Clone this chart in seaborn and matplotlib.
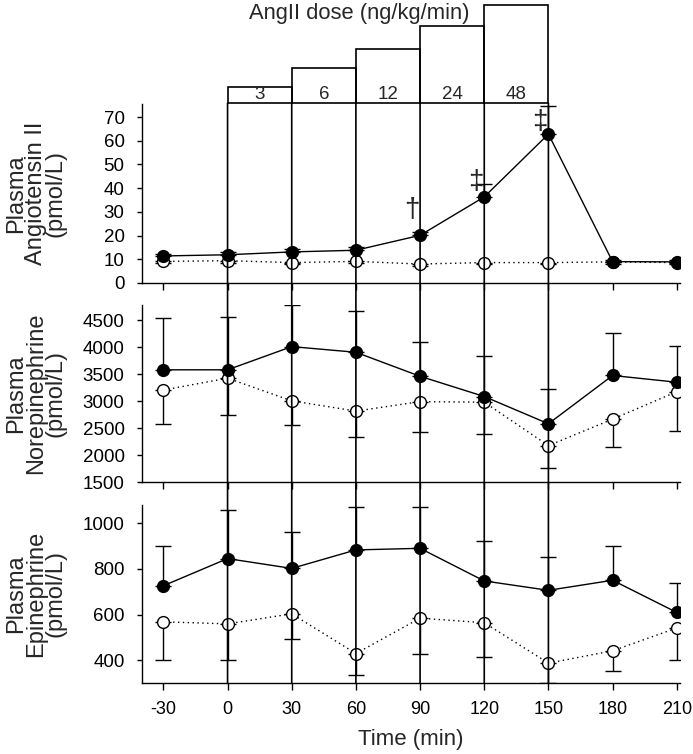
import matplotlib
matplotlib.use('Agg')
import matplotlib.pyplot as plt
import seaborn as sns
from matplotlib.patches import ConnectionPatch

# data
times = [-30, 0, 30, 60, 90, 120, 150, 180, 210]

ang_inf = [11.4, 11.9, 13.1, 13.8, 20.1, 36.3, 62.8, 9.0, 8.9]
ang_inf_err = [1.0, 1.0, 1.2, 1.2, 1.5, 5.5, 12.0, 0.8, 0.8]
ang_ctl = [9.1, 9.4, 8.6, 9.1, 8.0, 8.6, 8.6, 8.9, 8.6]
ang_ctl_err = [0.8, 0.8, 0.7, 0.8, 0.7, 0.7, 0.7, 0.8, 0.7]

ne_inf = [3580, 3580, 4010, 3905, 3460, 3085, 2580, 3475, 3350]
ne_inf_err = [955, 982, 776, 770, 634, 751, 640, 783, 672]
ne_ctl = [3205, 3425, 3005, 2815, 2990, 2980, 2175, 2665, 3175]
ne_ctl_err = [628, 678, 450, 481, 567, 591, 406, 517, 721]

epi_inf = [726, 845, 802, 883, 890, 747, 706, 750, 609]
epi_inf_err = [172, 211, 161, 187, 180, 173, 145, 148, 131]
epi_ctl = [568, 559, 603, 429, 584, 564, 387, 441, 541]
epi_ctl_err = [168, 159, 112, 92, 159, 149, 87, 87, 141]

dose_start = [0, 30, 60, 90, 120]
dose_labels = ['3', '6', '12', '24', '48']

sig_times = [90, 120, 150]
sig_marks = ['\u2020', '\u2021', '\u2021']

# layout of the dose staircase (in top-panel units)
box_base = 75.9
box_top = [82.7, 90.7, 98.7, 108.4, 117.2]
sig_y = [30.8, 42.7, 68.0]

sns.set_style('ticks')
plt.rcParams['font.family'] = ['Liberation Sans', 'DejaVu Sans']
plt.rcParams['axes.unicode_minus'] = False

fig = plt.figure(figsize=(6.93, 7.54), dpi=100)
ax1 = fig.add_axes([0.2049, 0.6247, 0.7763, 0.2374])
ax2 = fig.add_axes([0.2049, 0.3607, 0.7763, 0.2347])
ax3 = fig.add_axes([0.2049, 0.0942, 0.7763, 0.2361])


def draw_panel(ax, ctl, ctl_err, inf, inf_err, ylim, yticks, label):
    zeros = [0] * len(times)
    ax.errorbar(times, ctl, yerr=[ctl_err, zeros], fmt='none', ecolor='black',
                elinewidth=1, capsize=5.5, capthick=1, zorder=2)
    ax.errorbar(times, inf, yerr=[zeros, inf_err], fmt='none', ecolor='black',
                elinewidth=1, capsize=5.5, capthick=1, zorder=2)
    sns.lineplot(x=times, y=ctl, ax=ax, color='black', lw=1, linestyle=(0, (1, 2.5)),
                 marker='o', markersize=8.5, markerfacecolor='white',
                 markeredgecolor='black', markeredgewidth=1, zorder=3)
    sns.lineplot(x=times, y=inf, ax=ax, color='black', lw=1,
                 marker='o', markersize=8.5, markerfacecolor='black',
                 markeredgecolor='black', markeredgewidth=1, zorder=4)
    ax.set_xlim(-40, 211.5)
    ax.set_ylim(*ylim)
    ax.set_yticks(yticks)
    ax.set_xticks(times)
    ax.set_xlabel('')
    ax.set_ylabel('')
    ax.tick_params(axis='x', length=5, width=1, direction='out', pad=8, labelsize=13, colors='black')
    ax.tick_params(axis='y', length=3.5, width=1, direction='out', pad=9, labelsize=13.5, colors='black')
    for s in ['left', 'bottom']:
        ax.spines[s].set_linewidth(1)
        ax.spines[s].set_color('black')
    sns.despine(ax=ax)
    ax.text(-0.197, 0.5, label, transform=ax.transAxes, rotation=90,
            ha='center', va='center', fontsize=17, linespacing=0.85)


draw_panel(ax1, ang_ctl, ang_ctl_err, ang_inf, ang_inf_err, (0, 75.5),
           [0, 10, 20, 30, 40, 50, 60, 70], 'Plasma\nAngiotensin II\n(pmol/L)')
draw_panel(ax2, ne_ctl, ne_ctl_err, ne_inf, ne_inf_err, (1500, 4780),
           [1500, 2000, 2500, 3000, 3500, 4000, 4500], 'Plasma\nNorepinephrine\n(pmol/L)')
draw_panel(ax3, epi_ctl, epi_ctl_err, epi_inf, epi_inf_err, (300, 1080),
           [400, 600, 800, 1000], 'Plasma\nEpinephrine\n(pmol/L)')

ax1.tick_params(axis='x', labelbottom=False)
ax2.tick_params(axis='x', labelbottom=False)
ax3.set_xlabel('Time (min)', fontsize=16, labelpad=8)

# dose staircase above the top panel
ax1.bar(dose_start, [t - box_base for t in box_top], bottom=box_base, width=30,
        align='edge', fill=False, edgecolor='black', linewidth=1.2, clip_on=False)
for s, lab in zip(dose_start, dose_labels):
    ax1.text(s + 15, 79.3, lab, ha='center', va='center', fontsize=13.5, clip_on=False)

# vertical dose-step lines through all panels
for x in dose_start + [dose_start[-1] + 30]:
    con = ConnectionPatch(xyA=(x, box_base), coordsA=ax1.transData,
                          xyB=(x, ax3.get_ylim()[0]), coordsB=ax3.transData,
                          color='black', lw=1.2)
    fig.add_artist(con)

for t, m, y in zip(sig_times, sig_marks, sig_y):
    ax1.text(t - 4, y, m, ha='center', va='center', fontsize=20)

fig.text(359 / 693, 1 - 14 / 754, 'AngII dose (ng/kg/min)', ha='center', va='center', fontsize=15.8)

fig.savefig('out.png', dpi=100)
